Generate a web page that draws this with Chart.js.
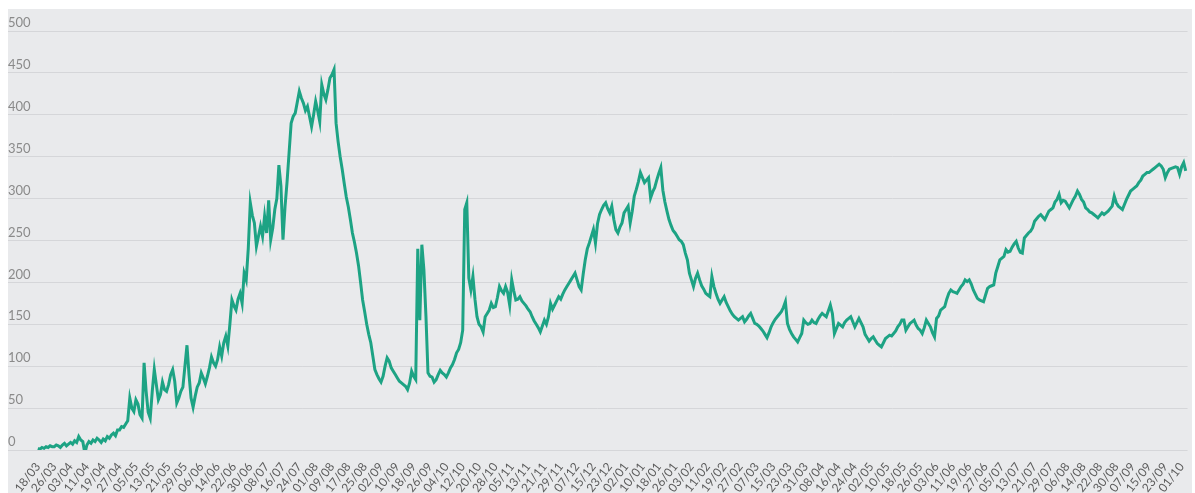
<!DOCTYPE html>
<html>
<head>
<meta charset="utf-8">
<script src="https://cdn.jsdelivr.net/npm/chart.js@4"></script>
<style>
html,body{margin:0;padding:0;background:#ffffff;}
canvas{display:block;}
</style>
</head>
<body>
<canvas id="c" width="1195" height="493"></canvas>
<script>
// Tick labels (every 8th record)
const tickLabels = ["18/03","26/03","03/04","11/04","19/04","27/04","05/05","13/05","21/05","29/05","06/06","14/06","22/06","30/06","08/07","16/07","24/07","01/08","09/08","17/08","25/08","02/09","10/09","18/09","26/09","04/10","12/10","20/10","28/10","05/11","13/11","21/11","29/11","07/12","15/12","23/12","02/01","10/01","18/01","26/01","03/02","11/02","19/02","27/02","07/03","15/03","23/03","31/03","08/04","16/04","24/04","02/05","10/05","18/05","26/05","03/06","11/06","19/06","27/06","05/07","13/07","21/07","29/07","06/08","14/08","22/08","30/08","07/09","15/09","23/09","01/10"];

// Series values, one per record (8 records per tick label)
const values = [
2,1,3,2,4,3,5,4,
4,6,5,3,6,8,5,7,
9,7,11,9,16,12,10,-4,
6,10,8,12,10,14,12,9,
13,11,16,14,18,20,17,24,
24,28,27,31,35,62,50,46,
60,55,42,38,104,70,45,38,
70,96,78,60,66,81,72,70,
78,90,96,82,56,62,70,75,
100,125,90,62,51,64,75,80,
92,86,79,88,98,111,104,100,
108,123,112,128,136,124,150,179,
172,167,180,187,175,211,203,240,
295,280,271,243,255,267,255,279,
259,298,251,265,287,300,340,315,
251,290,320,355,390,398,402,415,
428,420,414,405,410,398,386,400,
416,405,392,436,425,418,430,444,
448,454,390,368,350,335,318,302,
290,275,259,248,235,220,200,179,
165,150,138,128,112,96,90,85,
81,88,100,110,106,98,94,90,
86,82,80,78,76,72,80,94,
88,84,240,155,245,215,160,92,
88,87,81,84,90,95,92,90,
87,92,98,102,108,116,120,128,
143,287,295,205,191,207,180,159,
150,147,141,159,163,167,175,170,
171,182,195,190,187,195,188,173,
203,190,179,180,183,178,175,172,
168,165,159,154,150,146,141,148,
155,150,159,175,168,173,178,183,
180,186,191,195,199,203,207,211,
203,195,191,210,227,240,247,255,
263,247,270,281,287,292,295,288,
283,291,275,263,259,266,271,283,
287,291,271,285,303,311,320,331,
325,319,322,325,301,308,313,322,
330,337,310,296,285,275,268,262,
259,255,251,249,245,235,227,211,
203,195,205,211,203,196,192,187,
185,183,207,195,187,180,175,179,
183,176,171,166,162,159,157,155,
157,159,153,156,160,163,157,151,
150,148,145,142,138,134,140,147,
152,156,159,162,165,170,177,151,
144,139,135,132,129,134,139,155,
152,150,151,155,152,151,156,160,
163,161,159,166,173,163,139,145,
151,149,147,152,155,157,159,153,
147,152,157,152,147,138,134,130,
133,135,131,127,125,123,128,133,
135,137,136,139,142,147,150,155,
155,143,147,151,153,155,149,145,
143,139,146,155,151,147,140,135,
157,160,167,169,171,180,187,191,
189,188,187,191,195,198,203,201,
203,198,191,186,181,179,178,177,
185,193,195,196,197,211,219,227,
229,231,239,236,237,242,246,249,
241,236,235,253,256,259,261,265,
273,276,279,281,278,275,280,285,
287,289,296,299,305,295,298,297,
293,289,294,299,303,309,305,299,
296,289,287,284,283,281,279,277,
280,283,281,283,285,288,291,303,
295,291,289,287,293,299,304,309,
311,313,315,319,322,327,329,331,
331,333,335,337,339,341,339,335,
325,331,335,336,337,338,337,329,
338,343,333
];

const yTicks = [0,50,100,150,200,250,300,350,400,450,500];

const bgPlugin = {
  id: 'bg',
  beforeDraw(chart) {
    const ctx = chart.ctx;
    ctx.save();
    ctx.fillStyle = '#e9eaec';
    ctx.fillRect(8, 9, 1184, 484);
    ctx.restore();
  }
};

new Chart(document.getElementById('c'), {
  type: 'line',
  data: {
    datasets: [{
      data: values.map((v, i) => ({x: i, y: v})),
      borderColor: '#1da384',
      borderWidth: 3,
      pointRadius: 0,
      tension: 0,
      fill: false
    }]
  },
  options: {
    responsive: false,
    animation: false,
    layout: {padding: {left: 8, right: 3, top: 31, bottom: 0}},
    plugins: {legend: {display: false}, tooltip: {enabled: false}},
    scales: {
      x: {
        type: 'linear',
        min: -14.63,
        max: 562.9,
        grid: {display: false},
        border: {display: false},
        afterFit(scale) { scale.height = 43; },
        afterBuildTicks(scale) {
          scale.ticks = tickLabels.map((_, k) => ({value: k * 8}));
        },
        ticks: {
          autoSkip: false,
          maxRotation: 52,
          minRotation: 52,
          padding: 2,
          color: '#5c5c5c',
          font: {family: 'Lato', size: 12},
          callback: (v) => tickLabels[Math.round(v / 8)]
        }
      },
      y: {
        min: 0,
        max: 500,
        afterFit(scale) { scale.width = 0; },
        afterBuildTicks(scale) {
          scale.ticks = yTicks.map(v => ({value: v}));
        },
        grid: {color: '#d5d6d9', lineWidth: 1, drawTicks: false},
        border: {display: false},
        ticks: {
          mirror: true,
          padding: 0,
          labelOffset: -8,
          color: '#8a8a8a',
          font: {family: 'Lato', size: 13}
        }
      }
    }
  },
  plugins: [bgPlugin]
});
</script>
</body>
</html>
